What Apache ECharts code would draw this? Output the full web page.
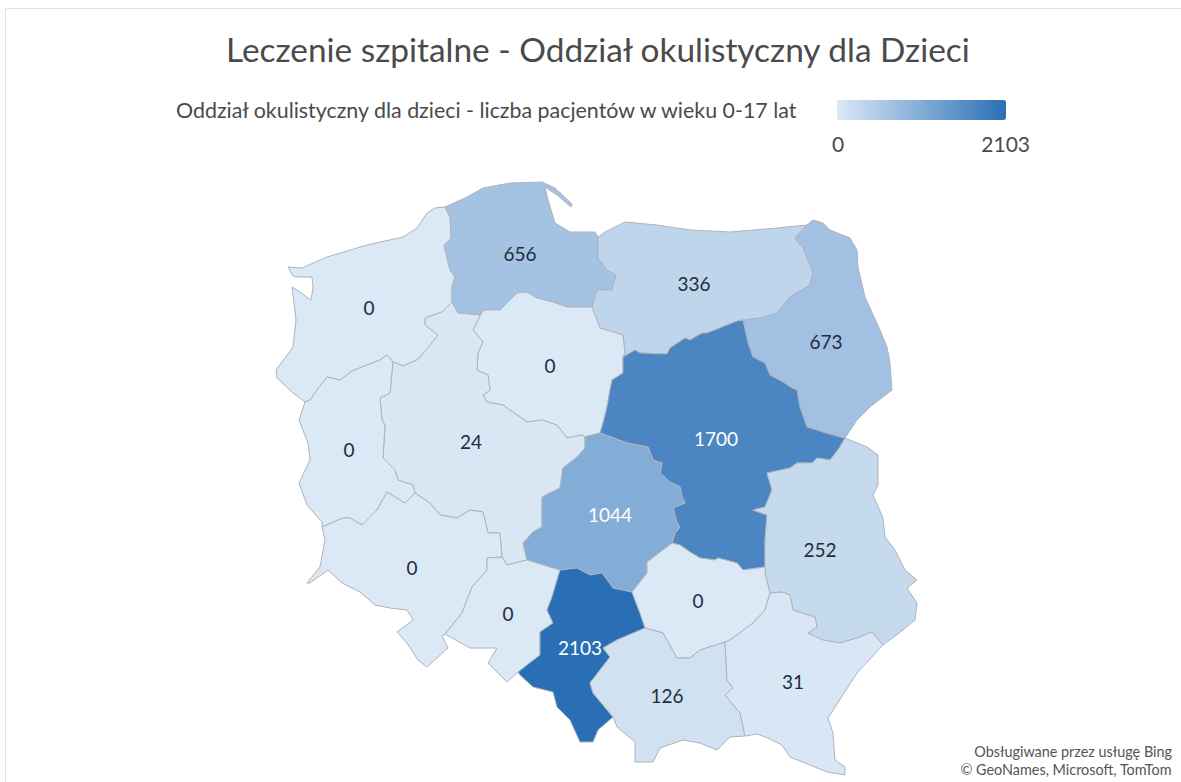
<!DOCTYPE html>
<html lang="pl">
<head>
<meta charset="utf-8">
<title>Oddział okulistyczny dla Dzieci</title>
<script src="https://cdn.jsdelivr.net/npm/echarts@6/dist/echarts.min.js"></script>
<style>
  html, body { margin: 0; padding: 0; background: #fff; }
  #chart { width: 1181px; height: 782px; }
</style>
</head>
<body>
<div id="chart"></div>
<script>
var titleText = 'Leczenie szpitalne - Oddział okulistyczny dla Dzieci';
var legendText = 'Oddział okulistyczny dla dzieci - liczba pacjentów w wieku 0-17 lat';
var creditLines = ['Obsługiwane przez usługę Bing', '© GeoNames, Microsoft, TomTom'];

var regionNames = ['zachodniopomorskie', 'pomorskie', 'warmińsko-mazurskie', 'podlaskie', 'kujawsko-pomorskie', 'wielkopolskie', 'lubuskie', 'mazowieckie', 'łódzkie', 'lubelskie', 'dolnośląskie', 'opolskie', 'śląskie', 'świętokrzyskie', 'małopolskie', 'podkarpackie'];
var regionValues = [0, 656, 336, 673, 0, 24, 0, 1700, 1044, 252, 0, 0, 2103, 0, 126, 31];
var minValue = 0;
var maxValue = 2103;

// Voivodeship borders, shared between neighbours
var arcs = {
  zpCoast: [[305,402],[293,393],[277,378],[276,370],[293,347],[296,320],[292,287],[300,292],[308,298],[311,300],[313,288],[312,277],[296,277],[293,276],[288,267],[302,268],[327,257],[367,245],[403,237],[417,228],[427,213],[435,208],[445,207]],
  zpPom: [[445,207],[450,217],[451,238],[444,245],[450,270],[455,277],[452,287],[452,302]],
  zpWlkp: [[452,302],[442,312],[425,318],[425,325],[438,335],[428,348],[417,360],[403,366],[393,362]],
  zpLub: [[393,362],[387,355],[380,360],[367,365],[352,371],[340,380],[327,377],[317,390],[310,400],[305,402]],
  lubWest: [[305,402],[299,420],[308,443],[310,460],[299,483],[307,505],[322,522],[322,527]],
  lubDol: [[322,527],[343,518],[350,518],[362,525],[377,510],[387,492],[405,503],[415,493]],
  lubWlkp: [[393,362],[392,372],[390,393],[380,398],[382,420],[385,425],[383,458],[395,470],[398,480],[413,485],[415,493]],
  pomCoast: [[445,207],[467,197],[483,188],[510,183],[542,182],[555,188],[572,204],[571,207],[557,195],[545,187],[548,200],[555,223],[570,232],[595,232],[598,237]],
  pomWarm: [[598,237],[598,258],[607,270],[616,275],[612,290],[597,290],[592,307]],
  pomKuj: [[483,310],[500,310],[507,303],[517,293],[527,292],[537,298],[553,302],[567,307],[587,307],[592,307]],
  pomWlkp: [[452,302],[458,313],[480,315],[483,310]],
  warmCoast: [[598,237],[605,232],[625,222],[657,225],[690,230],[730,232],[777,228],[807,225]],
  warmPodl: [[807,225],[795,238],[803,248],[813,272],[810,285],[790,297],[777,313],[760,318],[743,320]],
  warmMaz: [[743,320],[737,321],[722,327],[707,333],[702,333],[690,340],[685,338],[670,348],[667,354],[640,353],[635,350],[623,357]],
  warmKuj: [[592,307],[600,328],[623,335],[625,353],[623,357]],
  podlEast: [[807,225],[813,220],[823,223],[830,230],[850,238],[857,250],[858,267],[865,297],[880,330],[887,347],[890,363],[892,390],[870,407],[857,420],[845,438]],
  podlMaz: [[743,320],[748,343],[753,357],[765,363],[770,375],[783,382],[792,388],[797,390],[800,407],[807,427],[823,432],[840,437],[845,438]],
  kujWlkp: [[483,310],[473,330],[483,342],[478,353],[477,370],[488,375],[490,390],[483,395],[487,402],[503,405],[527,422],[542,420],[557,425],[567,438],[582,435],[585,437]],
  kujLodz: [[585,437],[600,433]],
  kujMaz: [[623,357],[623,373],[612,380],[610,390],[607,407],[603,423],[600,433]],
  wlkpLodz: [[585,437],[585,448],[577,457],[563,468],[560,488],[542,497],[542,527],[533,532],[523,543],[527,560]],
  wlkpOp: [[502,557],[507,565],[527,560]],
  wlkpDol: [[415,493],[430,503],[440,515],[457,518],[470,510],[483,512],[488,533],[500,533],[502,557]],
  mazLub: [[845,438],[838,450],[830,460],[817,458],[812,463],[797,463],[790,468],[767,473],[772,490],[765,507],[753,510],[767,515],[765,540],[765,567]],
  mazSw: [[765,567],[743,570],[737,563],[718,558],[715,560],[700,558],[690,552],[680,545],[672,543]],
  lodzMaz: [[600,433],[627,443],[648,447],[653,460],[662,463],[660,473],[670,482],[680,487],[682,497],[685,503],[673,508],[677,523],[680,527],[675,533],[672,543]],
  lodzOp: [[527,560],[560,570]],
  lodzSl: [[560,570],[577,568],[590,575],[602,573],[613,588],[632,592]],
  lodzSw: [[632,592],[647,573],[647,562],[672,543]],
  opSl: [[560,570],[552,597],[547,610],[553,623],[540,632],[540,655],[518,672]],
  opSouth: [[518,672],[507,682],[488,663],[497,648],[470,648],[445,634]],
  dolOp: [[502,557],[487,558],[487,570],[472,587],[462,613],[445,634]],
  dolSouth: [[445,634],[442,636],[448,648],[427,667],[418,660],[407,643],[397,632],[413,620],[407,610],[390,608],[375,605],[360,592],[342,583],[328,570],[310,583],[307,583],[320,567],[325,540],[322,527]],
  slSw: [[632,592],[640,613],[645,628]],
  slMal: [[645,628],[617,640],[603,648],[610,657],[590,683],[593,693],[613,717]],
  slSouth: [[613,717],[598,730],[593,742],[580,742],[570,720],[557,707],[553,692],[533,687],[520,675],[518,672]],
  swLub: [[765,567],[765,573],[770,593]],
  swPk: [[770,593],[765,610],[753,623],[730,640],[725,642]],
  swMal: [[725,642],[700,650],[690,658],[677,658],[663,633],[645,628]],
  lubelEast: [[845,438],[867,447],[878,455],[878,485],[873,495],[883,518],[885,537],[895,550],[905,570],[917,580],[907,588],[917,603],[915,620],[903,630],[883,645]],
  lubPk: [[883,645],[877,638],[872,632],[857,638],[840,643],[823,640],[808,633],[817,627],[815,617],[793,610],[790,595],[782,592],[770,593]],
  pkEast: [[883,645],[857,673],[828,718],[833,733],[835,760],[845,767],[845,775],[827,772],[810,765],[790,757],[782,745],[768,738],[757,734],[745,736]],
  pkMal: [[745,736],[740,713],[725,695],[733,688],[727,680],[725,642]],
  malSouth: [[745,736],[730,737],[717,750],[700,743],[683,740],[660,748],[653,762],[635,762],[635,742],[617,727],[613,717]]
};

var regionRings = [
  ['zpCoast', 'zpPom', 'zpWlkp', 'zpLub'],
  ['pomCoast', 'pomWarm', '-pomKuj', '-pomWlkp', '-zpPom'],
  ['warmCoast', 'warmPodl', 'warmMaz', '-warmKuj', '-pomWarm'],
  ['podlEast', '-podlMaz', '-warmPodl'],
  ['pomKuj', 'warmKuj', 'kujMaz', '-kujLodz', '-kujWlkp'],
  ['lubWlkp', 'wlkpDol', 'wlkpOp', '-wlkpLodz', '-kujWlkp', '-pomWlkp', 'zpWlkp'],
  ['zpLub', 'lubWest', 'lubDol', '-lubWlkp'],
  ['-warmMaz', 'podlMaz', 'mazLub', 'mazSw', '-lodzMaz', '-kujMaz'],
  ['-kujLodz', 'wlkpLodz', 'lodzOp', 'lodzSl', 'lodzSw', '-lodzMaz'],
  ['-mazLub', 'lubelEast', 'lubPk', '-swLub'],
  ['lubDol', 'wlkpDol', 'dolOp', 'dolSouth'],
  ['wlkpOp', 'lodzOp', 'opSl', 'opSouth', '-dolOp'],
  ['lodzSl', 'slSw', 'slMal', 'slSouth', '-opSl'],
  ['lodzSw', '-mazSw', 'swLub', 'swPk', 'swMal', '-slSw'],
  ['-swMal', '-pkMal', 'malSouth', '-slMal'],
  ['-lubPk', 'pkEast', 'pkMal', '-swPk']
];

// Where each value label sits
var labelPoints = [[369,307],[520,253],[694,283],[826,341],[550,365],[471,441],[349,449],[716,438],[610,514],[820,549],[412,567],[508,613],[580,647],[698,600],[667,695],[793,681]];

function buildRing(names) {
  var ring = [];
  names.forEach(function(n) {
    var flip = n.charAt(0) === '-';
    var pts = arcs[flip ? n.slice(1) : n].slice();
    if (flip) pts.reverse();
    pts.forEach(function(p) { ring.push([p[0], -p[1]]); });
  });
  return ring;
}

var features = regionNames.map(function(name, i) {
  return {
    type: 'Feature',
    properties: { name: name, cp: [labelPoints[i][0], -labelPoints[i][1]] },
    geometry: { type: 'Polygon', coordinates: [buildRing(regionRings[i])] }
  };
});
echarts.registerMap('polska', { type: 'FeatureCollection', features: features });

var chart = echarts.init(document.getElementById('chart'), null, { renderer: 'svg' });
var fontName = 'Lato';
var ink = '#4a4a4a';

chart.setOption({
  animation: false,
  backgroundColor: '#ffffff',
  title: [
    { text: titleText, left: 226, top: 32, padding: 0, textStyle: { fontFamily: fontName, fontSize: 33.4, fontWeight: 'normal', color: ink } },
    { text: legendText, left: 176, top: 99, padding: 0, textStyle: { fontFamily: fontName, fontSize: 21.4, fontWeight: 'normal', color: ink } },
    { text: '0', left: 832, top: 133, padding: 0, textStyle: { fontFamily: fontName, fontSize: 21, fontWeight: 'normal', color: ink } },
    { text: '2103', right: 151, top: 133, padding: 0, textStyle: { fontFamily: fontName, fontSize: 21, fontWeight: 'normal', color: ink } },
    { text: creditLines[0], right: 9, top: 744, padding: 0, textStyle: { fontFamily: fontName, fontSize: 14.4, fontWeight: 'normal', color: '#555555' } },
    { text: creditLines[1], right: 9, top: 762, padding: 0, textStyle: { fontFamily: fontName, fontSize: 14.4, fontWeight: 'normal', color: '#555555' } }
  ],
  graphic: [{
    type: 'rect', silent: true, z: -1,
    shape: { x: 5.5, y: 8.5, width: 1200, height: 800 },
    style: { fill: 'none', stroke: '#e2e2e2', lineWidth: 1 }
  }],
  visualMap: {
    type: 'continuous',
    min: minValue,
    max: maxValue,
    orient: 'horizontal',
    left: 822,
    top: 85,
    itemWidth: 20,
    itemHeight: 169,
    calculable: false,
    hoverLink: false,
    inRange: { color: ['#dbe8f6', '#2a6fb6'] }
  },
  series: [{
    type: 'map',
    map: 'polska',
    roam: false,
    aspectScale: 1,
    boundingCoords: [[0, 0], [1181, -782]],
    left: 0,
    top: 0,
    width: 1181,
    height: 782,
    selectedMode: false,
    itemStyle: { borderColor: '#aeb4ba', borderWidth: 1 },
    emphasis: { disabled: true },
    label: { show: true, formatter: '{c}', fontFamily: fontName, fontSize: 19, color: '#1f2d3d' },
    data: regionNames.map(function(name, i) {
      var v = regionValues[i];
      return { name: name, value: v, label: { color: v >= 1000 ? '#ffffff' : '#1f2d3d' } };
    })
  }]
});
window.addEventListener('resize', function() { chart.resize(); });
</script>
</body>
</html>
